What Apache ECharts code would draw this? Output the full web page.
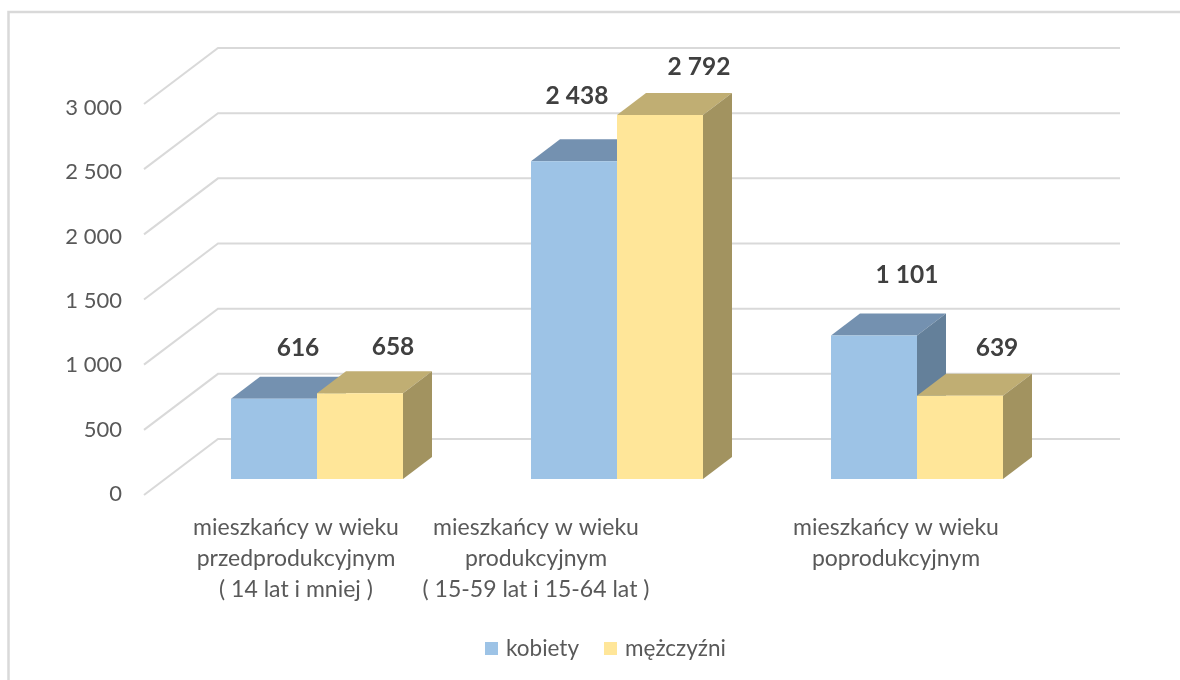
<!DOCTYPE html>
<html>
<head>
<meta charset="utf-8">
<title>Mieszkańcy</title>
<script src="https://cdn.jsdelivr.net/npm/echarts@6/dist/echarts.min.js"></script>
<style>
  html, body { margin: 0; padding: 0; background: #fff; }
  #chart { width: 1180px; height: 680px; }
</style>
</head>
<body>
<div id="chart"></div>
<script>
// dane
var categories = ['cat0', 'cat1', 'cat2']
var categoryLabels = [
  'mieszkańcy w wieku\nprzedprodukcyjnym\n( 14 lat i mniej )',
  'mieszkańcy w wieku\nprodukcyjnym\n( 15-59 lat i 15-64 lat )',
  'mieszkańcy w wieku\npoprodukcyjnym'
]
var kobiety = [616, 2438, 1101]
var mezczyzni = [658, 2792, 639]
var ticks = [0, 500, 1000, 1500, 2000, 2500, 3000]

// przesunięcia etykiet jak w oryginale (px)
var categoryLabelShift = [-21, -81, -21]
var kobietyLabelShift = [[24, -51], [3, -65], [33, -60]]
var mezczyzniLabelShift = [[33, -46], [39, -48], [37, -48]]

// głębokość słupka i tylnej ściany (px)
var BAR_WIDTH = 86
var DEPTH_X = 29
var DEPTH_Y = 22
var WALL_Y = 40
var FONT = 'Lato, Carlito, sans-serif'

function spaced(v) {
  return String(v).replace(/\B(?=(\d{3})+$)/g, ' ')
}

function barSeries(name, values, shifts, side, colors) {
  return {
    name: name,
    type: 'custom',
    xAxisIndex: 0,
    yAxisIndex: 0,
    itemStyle: { color: colors.front },
    data: values.map(function(v, i) { return [categories[i], v] }),
    encode: { x: 0, y: 1 },
    renderItem: function(params, api) {
      var base = api.coord([api.value(0), 0])
      var top = api.coord([api.value(0), api.value(1)])
      var x0 = side < 0 ? base[0] - BAR_WIDTH : base[0]
      var x1 = x0 + BAR_WIDTH
      var shift = shifts[params.dataIndex]
      return {
        type: 'group',
        children: [
          { type: 'polygon', shape: { points: [[x0, top[1]], [x0 + DEPTH_X, top[1] - DEPTH_Y], [x1 + DEPTH_X, top[1] - DEPTH_Y], [x1, top[1]]] }, style: { fill: colors.top }},
          { type: 'polygon', shape: { points: [[x1, top[1]], [x1 + DEPTH_X, top[1] - DEPTH_Y], [x1 + DEPTH_X, base[1] - DEPTH_Y], [x1, base[1]]] }, style: { fill: colors.side }},
          { type: 'rect', shape: { x: x0, y: top[1], width: BAR_WIDTH, height: base[1] - top[1] }, style: { fill: colors.front }},
          { type: 'text', x: (x0 + x1) / 2 + shift[0], y: top[1] + shift[1], style: {
            text: spaced(values[params.dataIndex]),
            fill: '#404040',
            font: 'bold 24.5px ' + FONT,
            align: 'center',
            verticalAlign: 'middle'
          }}
        ]
      }
    }
  }
}

var chart = echarts.init(document.getElementById('chart'), null, { renderer: 'canvas' })
chart.setOption({
  backgroundColor: '#fff',
  animation: false,
  textStyle: { fontFamily: FONT, color: '#595959' },
  legend: {
    left: 480,
    top: 632,
    itemWidth: 13,
    itemHeight: 13,
    itemGap: 25,
    icon: 'rect',
    data: ['kobiety', 'mężczyźni'],
    textStyle: { fontFamily: FONT, fontSize: 22.5, color: '#595959', padding: [0, 0, 0, 3] }
  },
  graphic: [{
    // ramka wykresu wychodzi poza prawą i dolną krawędź
    type: 'rect',
    shape: { x: 8.5, y: 12, width: 1300, height: 800 },
    style: { fill: 'none', stroke: '#d9d9d9', lineWidth: 2.5 },
    silent: true
  }],
  grid: [
    // płaszczyzna słupków
    { left: 167, top: 88, width: 900, height: 391 },
    // płaszczyzna opisów osi
    { left: 130, top: 108, width: 900, height: 386 }
  ],
  xAxis: [
    { type: 'category', gridIndex: 0, data: categories, show: false },
    { type: 'category', gridIndex: 1, data: categories, show: false }
  ],
  yAxis: [
    { type: 'value', gridIndex: 0, min: 0, max: 3000, interval: 500, show: false },
    {
      type: 'value', gridIndex: 1, min: 0, max: 3000, interval: 500,
      axisLine: { show: false },
      axisTick: { show: false },
      splitLine: { show: false },
      axisLabel: { margin: 8, fontSize: 22, color: '#595959', fontFamily: FONT, formatter: spaced }
    }
  ],
  series: [
    {
      // siatka 3D: ściana + skos przy podłodze
      type: 'custom',
      silent: true,
      xAxisIndex: 0,
      yAxisIndex: 0,
      data: ticks.map(function(t) { return [categories[0], t] }),
      encode: { x: 0, y: 1 },
      renderItem: function(params, api) {
        var p = api.coord([api.value(0), api.value(1)])
        var r = params.coordSys
        var y = p[1] - WALL_Y
        return {
          type: 'polyline',
          shape: { points: [[r.x - 23, y + 56], [r.x + 51, y], [r.x + r.width + 53, y]] },
          style: { fill: 'none', stroke: '#d9d9d9', lineWidth: 2 }
        }
      }
    },
    barSeries('kobiety', kobiety, kobietyLabelShift, -1, { front: '#9dc3e6', top: '#7491b0', side: '#64809a' }),
    barSeries('mężczyźni', mezczyzni, mezczyzniLabelShift, 1, { front: '#ffe699', top: '#c0ae73', side: '#a29360' }),
    {
      // opisy kategorii
      type: 'custom',
      silent: true,
      xAxisIndex: 0,
      yAxisIndex: 0,
      data: categories.map(function(c) { return [c, 0] }),
      encode: { x: 0, y: 1 },
      renderItem: function(params, api) {
        var p = api.coord([api.value(0), 0])
        return {
          type: 'text',
          x: p[0] + categoryLabelShift[params.dataIndex],
          y: 512,
          style: {
            text: categoryLabels[params.dataIndex],
            fill: '#595959',
            font: '23px ' + FONT,
            lineHeight: 31,
            align: 'center',
            verticalAlign: 'top'
          }
        }
      }
    }
  ]
})
</script>
</body>
</html>
